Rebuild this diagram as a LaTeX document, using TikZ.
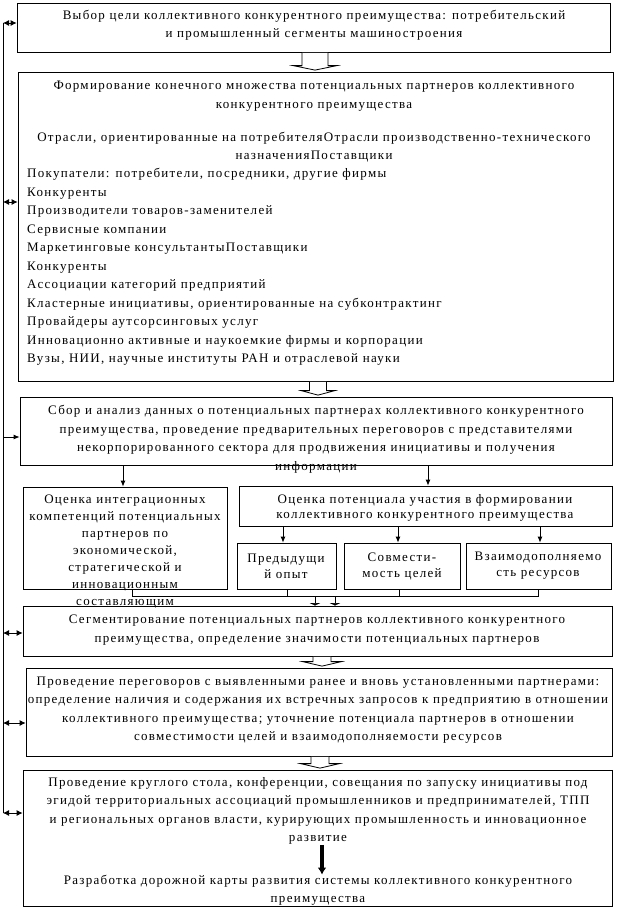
\documentclass[tikz,border=0pt]{standalone}
\usepackage{fontspec}
\setmainfont{Liberation Serif}[LetterSpace=10]
\usetikzlibrary{arrows.meta,fit,calc}
\newcommand\blockarr[5]{%
  \draw[fill=white, line width=0.8pt] let \p1=(#1.south -| #3), \p2=(#2.north -| #3) in
  (\x1-#4pt,\y1-0.4pt) -- (\x1-#4pt,\y2+6pt) -- (\x1-#5pt,\y2+6pt) -- (\x1,\y2+1.5pt)
  -- (\x1+#5pt,\y2+6pt) -- (\x1+#4pt,\y2+6pt) -- (\x1+#4pt,\y1-0.4pt);}
\begin{document}
\begin{tikzpicture}[x=1pt,y=-1pt,
  box/.style={draw, line width=0.8pt, inner sep=0pt},
  txt/.style={inner sep=0pt, align=center, font=\fontsize{13}{18.5}\selectfont},
  arr/.style={line width=0.8pt, -{Latex[length=6pt,width=5pt]}},
  dbl/.style={line width=0.8pt, {Latex[length=6pt,width=6pt]}-{Latex[length=6pt,width=6pt]}},
  flat/.style={line width=0.8pt, -{Latex[length=2.5pt,width=12pt]}},
  conn/.style={line width=0.8pt}]
\useasboundingbox (0,0) rectangle (621,908);
\fill[white] (0,0) rectangle (621,908);
% boxes
\node[box, fit={(17,3) (610,52)}] (b1) {};
\node[box, fit={(18,72) (613,381)}] (b2) {};
\node[box, fit={(20,397) (612,465)}] (b3) {};
\node[box, fit={(23,487) (227,589)}] (b4) {};
\node[box, fit={(239,486) (612,526)}] (b5) {};
\node[box, fit={(237,543) (336,589)}] (b6) {};
\node[box, fit={(344,543) (460,589)}] (b7) {};
\node[box, fit={(466,543) (611,589)}] (b8) {};
\node[box, fit={(23,606) (612,656)}] (b9) {};
\node[box, fit={(26,668) (612,756)}] (b10) {};
\node[box, fit={(23,770) (612,906)}] (b11) {};
% texts
\node[txt] (t1) at (314,25) {Выбор цели коллективного конкурентного преимущества: потребительский\\и промышленный сегменты машиностроения};
\node[txt] (t2a) at (314,96) {Формирование конечного множества потенциальных партнеров коллективного\\конкурентного преимущества};
\node[txt] (t2b) at (314,147) {Отрасли, ориентированные на потребителяОтрасли производственно-технического\\назначенияПоставщики};
\node[txt, align=left, anchor=west] (t2c) at (27,267) {Покупатели: потребители, посредники, другие фирмы\\Конкуренты\\Производители товаров-заменителей\\Сервисные компании\\Маркетинговые консультантыПоставщики\\Конкуренты\\Ассоциации категорий предприятий\\Кластерные инициативы, ориентированные на субконтрактинг\\Провайдеры аутсорсинговых услуг\\Инновационно активные и наукоемкие фирмы и корпорации\\Вузы, НИИ, научные институты РАН и отраслевой науки};
\node[txt] (t3) at (316,439) {Сбор и анализ данных о потенциальных партнерах коллективного конкурентного\\преимущества, проведение предварительных переговоров с представителями\\некорпорированного сектора для продвижения инициативы и получения\\информации};
\node[txt, font=\fontsize{13}{17}\selectfont] (t4) at (125,552) {Оценка интеграционных\\компетенций потенциальных\\партнеров по\\экономической,\\стратегической и\\инновационным\\составляющим};
\node[txt, font=\fontsize{13}{15}\selectfont] (t5) at (425,508) {Оценка потенциала участия в формировании\\коллективного конкурентного преимущества};
\node[txt, font=\fontsize{13}{16}\selectfont] (t6) at (286,566) {Предыдущи\\й опыт};
\node[txt, font=\fontsize{13}{16}\selectfont] (t7) at (402,566) {Совмести-\\мость целей};
\node[txt, font=\fontsize{13}{16}\selectfont] (t8) at (538,566) {Взаимодополняемо\\сть ресурсов};
\node[txt] (t9) at (317,630) {Сегментирование потенциальных партнеров коллективного конкурентного\\преимущества, определение значимости потенциальных партнеров};
\node[txt] (t10) at (318,710) {Проведение переговоров с выявленными ранее и вновь установленными партнерами:\\определение наличия и содержания их встречных запросов к предприятию в отношении\\коллективного преимущества; уточнение потенциала партнеров в отношении\\совместимости целей и взаимодополняемости ресурсов};
\node[txt] (t11a) at (318,811) {Проведение круглого стола, конференции, совещания по запуску инициативы под\\эгидой территориальных ассоциаций промышленников и предпринимателей, ТПП\\и региональных органов власти, курирующих промышленность и инновационное\\развитие};
\node[txt] (t11b) at (318,890) {Разработка дорожной карты развития системы коллективного конкурентного\\преимущества};
% block arrows
\coordinate (ba1) at (315,0);
\coordinate (ba2) at (318,0);
\coordinate (ba3) at (322,0);
\coordinate (ba4) at (320,0);
\blockarr{b1}{b2}{ba1}{13}{22}
\blockarr{b2}{b3}{ba2}{8.5}{17}
\blockarr{b9}{b10}{ba3}{9}{19.5}
\blockarr{b10}{b11}{ba4}{9}{19.5}
% small arrows
\coordinate (s4) at (123,0);
\coordinate (s5) at (428,0);
\coordinate (s6) at (283,0);
\coordinate (s7) at (398,0);
\coordinate (s8) at (540,0);
\draw[arr] (b3.south -| s4) -- (b4.north -| s4);
\draw[arr] (b3.south -| s5) -- (b5.north -| s5);
\draw[arr] (b5.south -| s6) -- (b6.north -| s6);
\draw[arr] (b5.south -| s7) -- (b7.north -| s7);
\draw[arr] (b5.south -| s8) -- (b8.north -| s8);
% junction to segmentation box
\coordinate (jl) at (132,596);
\coordinate (jr) at (538,596);
\coordinate (j6) at (287,596);
\coordinate (j7) at (399,596);
\coordinate (ja) at (315,596);
\coordinate (jb) at (335,596);
\draw[conn] (b4.south -| jl) -- (jl) -- (jr) -- (b8.south -| jr);
\draw[conn] (b6.south -| j6) -- (j6);
\draw[conn] (b7.south -| j7) -- (j7);
\draw[flat] (ja) -- (ja |- b9.north);
\draw[flat] (jb) -- (jb |- b9.north);
% thick arrow in last box
\coordinate (ta) at (322,0);
\draw[line width=4pt, -{Latex[length=7pt,width=9pt]}] (t11a.south -| ta) -- (t11b.north -| ta);
% left feedback line
\coordinate (L1) at (3,23);
\coordinate (L2) at (3,202);
\coordinate (L3) at (3,437);
\coordinate (L4) at (3,633);
\coordinate (L5) at (3,723);
\coordinate (L6) at (3,813);
\draw[conn] (L1) -- (L6);
\draw[dbl] (L1) -- (L1 -| b1.west);
\draw[dbl] (L2) -- (L2 -| b2.west);
\draw[arr] (L3) -- (L3 -| b3.west);
\draw[dbl] (L4) -- (L4 -| b9.west);
\draw[dbl] (L5) -- (L5 -| b10.west);
\draw[dbl] (L6) -- (L6 -| b11.west);
\end{tikzpicture}
\end{document}
